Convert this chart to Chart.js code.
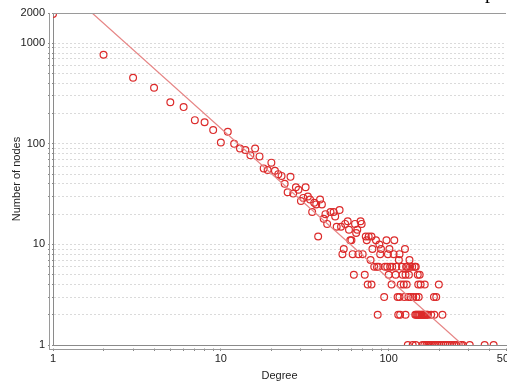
<!DOCTYPE html>
<html>
<head>
<meta charset="utf-8">
<script src="https://cdn.jsdelivr.net/npm/chart.js@4"></script>
<style>
  body { margin: 0; background: #fff; overflow: hidden; }
  #wrap { position: relative; width: 507px; height: 387px; overflow: hidden; }
  #cut { position: absolute; left: 485px; top: -19px; font: 20px "Liberation Serif", serif; line-height: 20px; color: #000; }
</style>
</head>
<body>
<div id="wrap">
  <canvas id="degChart" width="507" height="387"></canvas>
  <div id="cut">p</div>
</div>
<script>
// degree distribution
let degree = [
  1, 2, 3, 4, 5, 6, 7, 8, 9, 10, 11, 12, 13, 14, 15, 16, 17, 18, 19, 20,
  21, 22, 23, 24, 25, 26, 27, 28, 29, 30, 31, 32, 33, 34, 35, 36, 37, 38, 39, 40,
  41, 42, 43, 45, 47, 48, 49, 51, 52, 55, 57, 58, 59, 60, 63, 64, 65, 68, 69,
  73, 74, 76, 79, 84, 88, 97, 108,
  // 9
  54, 80, 90, 101, 125,
  // 8
  53, 61, 66, 70, 89, 99, 107, 116,
  // 7
  78, 115, 133,
  // 6
  82, 85, 87, 95, 98, 102, 105, 111, 120, 127, 129, 134, 138, 143, 145,
  // 5
  62, 72, 100, 110, 121, 126, 132, 149, 153,
  // 4
  75, 79, 104, 118, 123, 128, 150, 155, 164, 199,
  // 3
  94, 113, 116, 124, 131, 135, 140, 146, 151, 186, 192,
  // 2
  86, 114, 117, 126, 144, 146, 148, 150, 152, 154, 157, 159, 161, 163, 166, 169, 171, 179, 187, 209,
  // 1
  130, 139, 145, 159, 163, 168, 172, 176, 181, 186, 190, 195, 200, 206, 212, 218, 224, 231, 238,
  246, 254, 262, 270, 276, 304, 373, 422
];
let nodes = [
  1950, 770, 454, 361, 259, 232, 172, 164, 137, 103, 132, 100, 90, 87, 77, 90, 75, 57, 55, 65,
  54, 50, 48, 40, 33, 47, 32, 37, 35, 27, 29, 37, 30, 28, 21, 26, 25, 12, 28, 25,
  18, 20, 16, 21, 21, 19, 15, 22, 15, 16, 17, 14, 11, 11, 16, 13, 14, 17, 16,
  12, 11, 12, 12, 11, 10, 11, 11,
  9, 9, 9, 9, 9,
  8, 8, 8, 8, 8, 8, 8, 8,
  7, 7, 7,
  6, 6, 6, 6, 6, 6, 6, 6, 6, 6, 6, 6, 6, 6, 6,
  5, 5, 5, 5, 5, 5, 5, 5, 5,
  4, 4, 4, 4, 4, 4, 4, 4, 4, 4,
  3, 3, 3, 3, 3, 3, 3, 3, 3, 3, 3,
  2, 2, 2, 2, 2, 2, 2, 2, 2, 2, 2, 2, 2, 2, 2, 2, 2, 2, 2, 2,
  1, 1, 1, 1, 1, 1, 1, 1, 1, 1, 1, 1, 1, 1, 1, 1, 1, 1, 1,
  1, 1, 1, 1, 1, 1, 1, 1
];

// power law fit line
let fitDegree = [1.71, 276];
let fitNodes = [2000, 1];

let xTicks = [1, 2, 3, 4, 5, 6, 7, 8, 9, 10, 20, 30, 40, 50, 60, 70, 80, 90, 100, 200, 300, 400, 500];
let xLabels = [1, 10, 100, 500];
let yTicks = [1, 2, 3, 4, 5, 6, 7, 8, 9, 10, 20, 30, 40, 50, 60, 70, 80, 90,
  100, 200, 300, 400, 500, 600, 700, 800, 900, 1000, 2000];
let yLabels = [1, 10, 100, 1000, 2000];

let points = degree.map((d, i) => ({ x: d, y: nodes[i] }));
let fitLine = fitDegree.map((d, i) => ({ x: d, y: fitNodes[i] }));

// frame on top + the second axis line
const framePlugin = {
  id: "frame",
  afterDraw(chart) {
    const ctx = chart.ctx;
    const a = chart.chartArea;
    ctx.save();
    ctx.strokeStyle = "#9a9a9a";
    ctx.lineWidth = 1;
    ctx.beginPath();
    ctx.moveTo(a.left, a.top + 0.5);
    ctx.lineTo(a.right, a.top + 0.5);
    ctx.stroke();
    ctx.fillStyle = "#fff";
    ctx.fillRect(a.left - 1, a.bottom + 1, a.right - a.left + 2, 2.5);
    ctx.fillRect(a.left - 3.5, a.top, 2.5, a.bottom - a.top + 3);
    ctx.beginPath();
    ctx.moveTo(a.left - 4, a.bottom + 4.5);
    ctx.lineTo(a.right, a.bottom + 4.5);
    ctx.moveTo(a.left - 3.5, a.top);
    ctx.lineTo(a.left - 3.5, a.bottom + 4.5);
    ctx.stroke();
    ctx.restore();
  }
};

const font = { family: "'Liberation Sans', Arial, sans-serif", size: 11 };

new Chart(document.getElementById("degChart"), {
  type: "scatter",
  data: {
    datasets: [
      {
        label: "nodes",
        data: points,
        showLine: false,
        pointStyle: "circle",
        pointRadius: 3.4,
        pointBorderWidth: 1.2,
        pointBorderColor: "#dc2b2b",
        pointBackgroundColor: "rgba(0,0,0,0)",
        order: 2
      },
      {
        label: "fit",
        data: fitLine,
        showLine: true,
        borderColor: "#e68585",
        borderWidth: 1.2,
        pointRadius: 0,
        order: 1
      }
    ]
  },
  options: {
    responsive: false,
    animation: false,
    events: [],
    layout: { padding: { top: 13, right: 1, left: 0, bottom: 0 }, autoPadding: false },
    plugins: { legend: { display: false }, tooltip: { enabled: false } },
    scales: {
      x: {
        type: "logarithmic",
        min: 1,
        max: 500,
        afterBuildTicks: (s) => { s.ticks = xTicks.map((v) => ({ value: v })); },
        afterFit: (s) => { s.height = 42; s.paddingLeft = 0; s.paddingRight = 0; },
        ticks: {
          autoSkip: false,
          maxRotation: 0,
          padding: 1,
          color: "#222",
          font: font,
          callback: (v) => (xLabels.includes(v) ? String(v) : "")
        },
        grid: { drawOnChartArea: false, tickLength: 6, tickColor: "#8a8a8a" },
        border: { color: "#8a8a8a" },
        title: { display: true, text: "Degree", color: "#222", font: font, padding: { top: 0, bottom: 4 } }
      },
      y: {
        type: "logarithmic",
        min: 1,
        max: 2000,
        afterBuildTicks: (s) => { s.ticks = yTicks.map((v) => ({ value: v })); },
        afterFit: (s) => { s.width = 53; s.paddingTop = 0; s.paddingBottom = 0; },
        ticks: {
          autoSkip: false,
          padding: 3,
          color: "#222",
          font: font,
          callback: (v) => (yLabels.includes(v) ? String(v) : "")
        },
        grid: { color: "#dadada", tickLength: 5, tickColor: "#8a8a8a" },
        border: { color: "#8a8a8a", dash: [2, 2] },
        title: { display: true, text: "Number of nodes", color: "#222", font: font, padding: { top: 10, bottom: 0 } }
      }
    }
  },
  plugins: [framePlugin]
});
</script>
</body>
</html>
